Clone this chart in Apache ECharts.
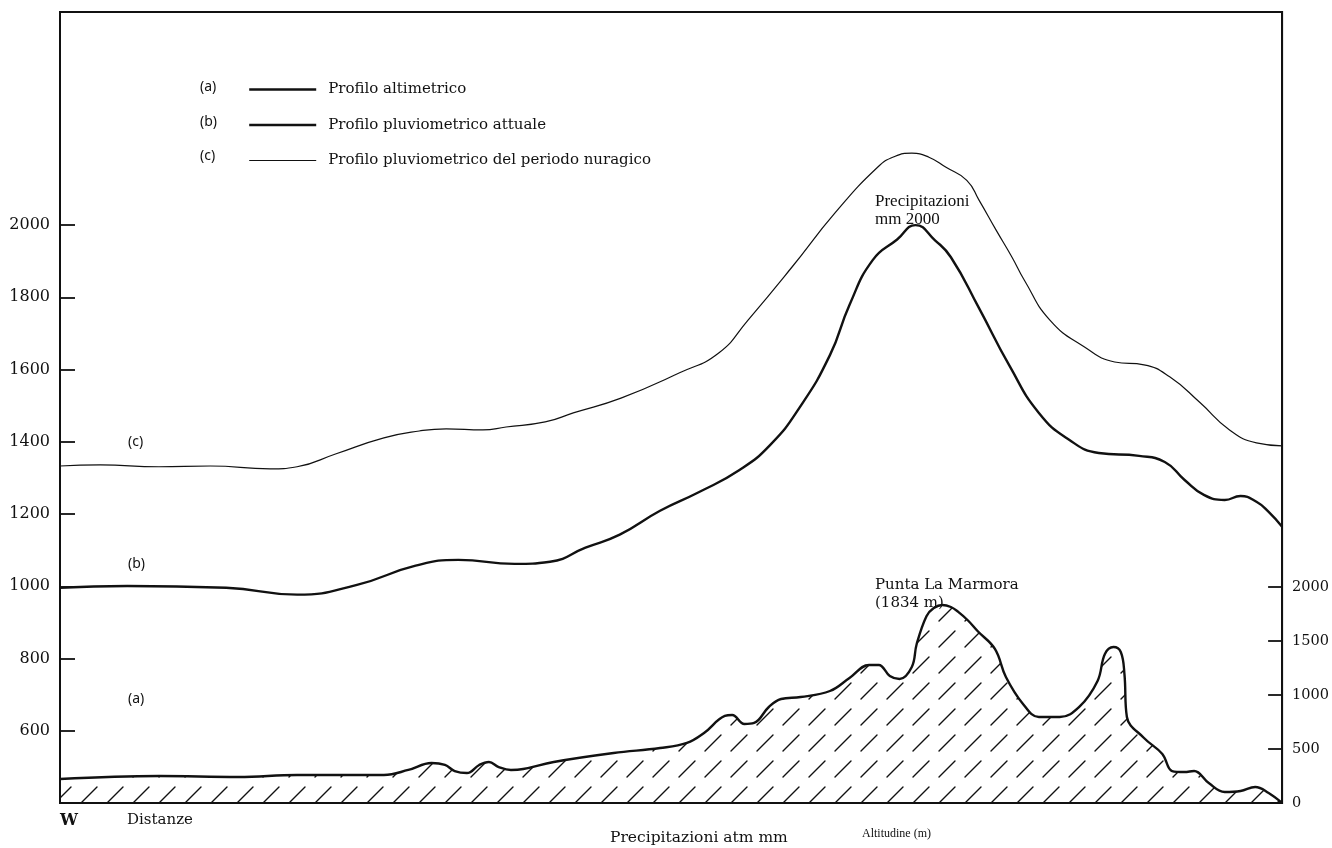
<!DOCTYPE html>
<html>
<head>
<meta charset="utf-8">
<script src="https://cdn.jsdelivr.net/npm/echarts@6/dist/echarts.min.js"></script>
<style>
  html, body { margin: 0; padding: 0; background: #fff; }
  #chart { width: 1332px; height: 848px; }
</style>
</head>
<body>
<div id="chart"></div>
<script>
// Distance along the W–E section (arbitrary units, 0 = W edge, 100 = E edge)
const distA = [0.0, 8.1, 14.6, 19.4, 26.5, 28.5, 30.4, 31.5, 32.3, 33.3, 34.3, 35.1, 35.9, 36.9, 37.9, 40.4, 45.3, 49.1, 51.3, 52.7, 54.4, 55.0, 56.0, 56.8, 58.0, 59.0, 60.6, 63.0, 64.6, 66.2, 67.0, 67.9, 68.7, 69.7, 70.1, 70.9, 71.5, 72.2, 72.9, 73.5, 74.3, 75.1, 76.5, 77.4, 78.8, 80.1, 81.8, 83.4, 84.9, 85.5, 86.2, 86.8, 87.1, 87.3, 88.7, 90.2, 91.0, 92.0, 92.8, 94.0, 95.3, 96.6, 97.8, 98.9, 100.0];
// (a) Profilo altimetrico – altitude in metres (right axis)
const altA = [222, 250, 241, 259, 259, 306, 370, 352, 296, 278, 352, 380, 333, 306, 315, 380, 463, 509, 556, 648, 806, 815, 731, 741, 889, 963, 981, 1037, 1157, 1278, 1278, 1176, 1148, 1259, 1472, 1730, 1805, 1834, 1815, 1770, 1690, 1590, 1426, 1167, 917, 796, 796, 889, 1130, 1380, 1444, 1398, 1194, 796, 602, 454, 296, 287, 296, 185, 102, 111, 148, 93, 0];

// (b) Profilo pluviometrico attuale – rainfall in mm (left axis)
const distB = [0.0, 5.5, 13.6, 19.4, 24.3, 29.1, 32.6, 37.2, 40.1, 43.0, 45.8, 49.1, 52.3, 55.6, 58.1, 60.5, 63.0, 64.6, 66.5, 68.5, 70.0, 71.6, 72.9, 75.2, 77.7, 80.1, 82.6, 85.0, 88.3, 90.4, 92.0, 93.6, 95.3, 96.6, 97.9, 98.9, 100.0];
const rainB = [996, 1001, 996, 977, 1004, 1057, 1073, 1062, 1068, 1107, 1143, 1209, 1261, 1322, 1391, 1494, 1640, 1779, 1903, 1960, 2000, 1958, 1911, 1770, 1610, 1480, 1405, 1369, 1361, 1344, 1295, 1253, 1239, 1250, 1234, 1206, 1165];

// (c) Profilo pluviometrico del periodo nuragico – rainfall in mm (left axis)
const distC = [0.0, 3.3, 8.1, 12.3, 17.2, 19.4, 22.6, 26.5, 29.4, 31.6, 34.6, 36.5, 39.7, 42.0, 45.9, 50.7, 53.9, 56.3, 59.9, 63.4, 66.9, 68.3, 69.7, 71.1, 72.5, 74.2, 75.2, 76.6, 77.9, 78.9, 81.0, 83.8, 86.3, 88.7, 90.8, 93.3, 95.7, 97.9, 100.0];
const rainC = [1333, 1336, 1331, 1333, 1325, 1331, 1367, 1411, 1430, 1436, 1433, 1441, 1455, 1480, 1521, 1591, 1646, 1737, 1884, 2033, 2160, 2190, 2199, 2188, 2160, 2124, 2069, 1986, 1911, 1848, 1737, 1663, 1621, 1613, 1580, 1508, 1433, 1397, 1389];

// Tick labels
const rainTicks = [600, 800, 1000, 1200, 1400, 1600, 1800, 2000];
const altTicks = [0, 500, 1000, 1500, 2000];

const seriesNames = ['Profilo altimetrico', 'Profilo pluviometrico attuale', 'Profilo pluviometrico del periodo nuragico'];
const seriesWidths = [2.4, 2.4, 1.2];

const zip = (xs, ys) => xs.map((x, i) => [x, ys[i]]);

// Dashed diagonal hatching for the relief area
function hatchTile() {
  const s = 26;
  const cv = document.createElement('canvas');
  cv.width = s; cv.height = s;
  const g = cv.getContext('2d');
  g.strokeStyle = '#111';
  g.lineWidth = 1.4;
  g.lineCap = 'round';
  g.beginPath();
  g.moveTo(3, 23);
  g.lineTo(19, 7);
  g.stroke();
  return cv;
}

const INK = '#111';
const SERIF = '"DejaVu Serif", serif';
const SANS = '"Noto Sans", sans-serif';

const chart = echarts.init(document.getElementById('chart'), null, { renderer: 'canvas' });

chart.setOption({
  backgroundColor: '#ffffff',
  animation: false,
  grid: {
    left: 60, right: 49, top: 12, bottom: 45,
    show: true, borderColor: INK, borderWidth: 2, backgroundColor: 'transparent'
  },
  legend: {
    orient: 'vertical',
    left: 243, top: 77,
    itemWidth: 67, itemHeight: 14, itemGap: 20.5,
    data: seriesNames.map((name, i) => ({ name, lineStyle: { color: INK, width: seriesWidths[i] } })),
    selectedMode: false,
    itemStyle: { opacity: 0 },
    textStyle: { color: INK, fontFamily: SERIF, fontSize: 15, padding: [0, 0, 0, 7] }
  },
  xAxis: {
    type: 'value', min: 0, max: 100,
    axisLine: { show: true, lineStyle: { color: INK, width: 2 } },
    axisTick: { show: false }, axisLabel: { show: false }, splitLine: { show: false }
  },
  yAxis: [
    {
      type: 'value', position: 'left', min: 400, max: 2590,
      axisLine: { show: true, lineStyle: { color: INK, width: 2 } },
      axisTick: { show: true, inside: true, length: 15, customValues: rainTicks, lineStyle: { color: INK, width: 1.8 } },
      axisLabel: { customValues: rainTicks, formatter: v => String(v), margin: 10, color: INK, fontFamily: SERIF, fontSize: 16 },
      splitLine: { show: false }
    },
    {
      type: 'value', position: 'right', min: 0, max: 7324,
      axisLine: { show: true, lineStyle: { color: INK, width: 2 } },
      axisTick: { show: true, inside: true, length: 14, customValues: altTicks, lineStyle: { color: INK, width: 1.8 } },
      axisLabel: { customValues: altTicks, formatter: v => String(v), margin: 10, color: INK, fontFamily: SERIF, fontSize: 14.5 },
      splitLine: { show: false }
    }
  ],
  series: [
    {
      name: seriesNames[0], type: 'line', yAxisIndex: 1,
      data: zip(distA, altA),
      symbol: 'none', smooth: 0.4,
      lineStyle: { color: INK, width: seriesWidths[0] },
      itemStyle: { color: INK },
      areaStyle: { color: { image: hatchTile(), repeat: 'repeat' }, opacity: 1 },
      z: 3
    },
    {
      name: seriesNames[1], type: 'line', yAxisIndex: 0,
      data: zip(distB, rainB),
      symbol: 'none', smooth: 0.5,
      lineStyle: { color: INK, width: seriesWidths[1] },
      itemStyle: { color: INK },
      z: 3
    },
    {
      name: seriesNames[2], type: 'line', yAxisIndex: 0,
      data: zip(distC, rainC),
      symbol: 'none', smooth: 0.5,
      lineStyle: { color: INK, width: seriesWidths[2] },
      itemStyle: { color: INK },
      z: 3
    }
  ],
  graphic: [
    // legend keys
    { type: 'text', left: 200, top: 80, style: { text: '(a)', font: '14px ' + SANS, fill: INK } },
    { type: 'text', left: 200, top: 115, style: { text: '(b)', font: '14px ' + SANS, fill: INK } },
    { type: 'text', left: 200, top: 149, style: { text: '(c)', font: '14px ' + SANS, fill: INK } },
    // curve tags
    { type: 'text', left: 128, top: 435, style: { text: '(c)', font: '14px ' + SANS, fill: INK } },
    { type: 'text', left: 128, top: 557, style: { text: '(b)', font: '14px ' + SANS, fill: INK } },
    { type: 'text', left: 128, top: 692, style: { text: '(a)', font: '14px ' + SANS, fill: INK } },
    // annotations
    { type: 'text', left: 875, top: 193, style: { text: 'Precipitazioni\nmm 2000', font: '17px "Liberation Serif", serif', lineHeight: 18, fill: INK } },
    { type: 'text', left: 875, top: 576, style: { text: 'Punta La Marmora\n(1834 m)', font: '15px ' + SERIF, lineHeight: 18, fill: INK } },
    // bottom texts
    { type: 'text', left: 60, top: 813, style: { text: 'W', font: 'bold 16px ' + SERIF, fill: INK } },
    { type: 'text', left: 127, top: 813, style: { text: 'Distanze', font: '15px ' + SERIF, fill: INK } },
    { type: 'text', left: 610, top: 830, style: { text: 'Precipitazioni atm mm', font: '15.5px ' + SERIF, fill: INK } },
    { type: 'text', left: 862, top: 828, style: { text: 'Altitudine (m)', font: '12px "Liberation Serif", serif', fill: INK } }
  ]
});
</script>
</body>
</html>
